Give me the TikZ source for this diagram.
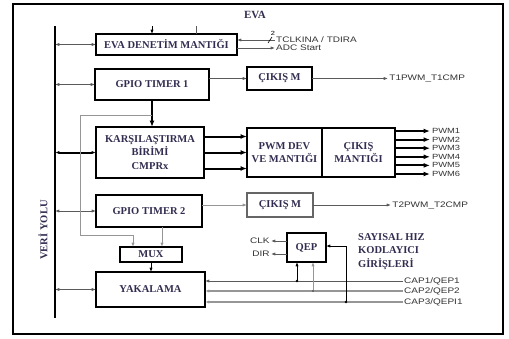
\documentclass[tikz,border=0pt]{standalone}
\usepackage{amsmath}
\usepackage{fontspec}
\setmainfont{Liberation Serif}
\newfontfamily\etiqfont[FakeStretch=1.25]{Liberation Sans}
\usepackage{tikz}
\usetikzlibrary{arrows.meta}
\usepackage{xcolor}
\definecolor{texte}{RGB}{50,45,80}
\definecolor{gris}{RGB}{150,150,150}
\definecolor{trait}{RGB}{90,90,90}

\begin{document}
\begin{tikzpicture}[x=1pt, y=-1pt,
    bloc/.style={draw, line width=1.2pt, inner sep=0pt, outer sep=0pt, align=center, text=texte, font=\bfseries\fontsize{10.5}{13.5}\selectfont},
    blocfort/.style={bloc, line width=2pt},
    etiq/.style={font=\etiqfont\fontsize{8}{9}\selectfont, inner sep=1pt, text=black!80},
    fine/.style={-{Latex[length=1.5mm, width=1.1mm]}, line width=0.8pt, draw=trait},
    epais/.style={-{Latex[length=2.2mm, width=1.7mm]}, line width=2pt},
    bus/.style={{Latex[length=1.5mm, width=1.1mm]}-{Latex[length=1.5mm, width=1.1mm]}, line width=0.8pt, draw=trait},
    grisfl/.style={-{Latex[length=1.5mm, width=1.1mm]}, line width=0.9pt, draw=gris}]

    \useasboundingbox (0,0) rectangle (509,338);

    % Cadre
    \draw[line width=2.2pt] (13,4) rectangle (503,334);
    \node[text=texte, font=\bfseries\fontsize{11}{12}\selectfont] (titre) at (255,15) {EVA};

    % Veri yolu
    \coordinate (busH) at (55,26);
    \coordinate (busB) at (55,318);
    \draw[line width=2.5pt] (busH) -- (busB);
    \node[rotate=90, text=texte, font=\bfseries\fontsize{10.5}{11}\selectfont] (veri) at (43,230) {VERİ YOLU};

    % Blocs
    \node[blocfort, minimum width=141, minimum height=21] (eva) at (166.5,44.5) {EVA DENETİM MANTIĞI};
    \node[blocfort, minimum width=114, minimum height=31] (gpioa) at (152,84.5) {GPIO TIMER 1};
    \node[blocfort, minimum width=65, minimum height=23] (cikisa) at (279.5,78.5) {ÇIKIŞ M};
    \node[bloc, minimum width=108, minimum height=51] (karsi) at (150,152.5) {KARŞILAŞTIRMA\\BİRİMİ\\CMPRx};
    \node[blocfort, minimum width=75, minimum height=49] (pwmdev) at (284.5,152.5) {PWM DEV\\VE MANTIĞI};
    \node[blocfort, minimum width=73, minimum height=49] (cikism) at (358.5,152.5) {ÇIKIŞ\\MANTIĞI};
    \node[bloc, minimum width=106, minimum height=32] (gpiob) at (149,211) {GPIO TIMER 2};
    \node[bloc, draw=gray!80!black, minimum width=66, minimum height=24] (cikisb) at (280,205) {ÇIKIŞ M};
    \node[bloc, line width=1.5pt, minimum width=62, minimum height=15] (mux) at (151,254.5) {MUX};
    \node[bloc, minimum width=109, minimum height=35] (yakala) at (150.5,289.5) {YAKALAMA};
    \node[blocfort, minimum width=39, minimum height=29] (qep) at (306.5,247.5) {QEP};

    % Flèches du bus
    \draw[bus] (eva.west -| busH) -- (eva.west);
    \draw[bus] (gpioa.west -| busH) -- (gpioa.west);
    \draw[bus, draw=black, line width=2pt] (karsi.west -| busH) -- (karsi.west);
    \draw[bus] (gpiob.west -| busH) -- (gpiob.west);
    \draw[bus] (yakala.west -| busH) -- (yakala.west);

    % Entrées et sorties EVA
    \coordinate (ina) at (152,26);
    \coordinate (inb) at (196,26);
    \draw[fine, draw=black] (ina) -- (ina |- eva.north);
    \draw[line width=0.8pt, draw=trait] (inb) -- (inb |- eva.north);
    \coordinate (tclk) at (275,40);
    \coordinate (adc) at (275,48);
    \draw[fine] (tclk) -- (tclk -| eva.east);
    \draw[fine] (adc -| eva.east) -- (adc);
    \draw[line width=0.6pt] (268,43) -- (272,37);
    \node[font=\etiqfont\fontsize{6}{6}\selectfont, inner sep=0pt] (deux) at (273,33) {2};
    \node[etiq, anchor=west] (ltclk) at (tclk) {TCLKINA / TDIRA};
    \node[etiq, anchor=west] (ladc) at (adc) {ADC Start};

    % Timer 1
    \draw[fine] (gpioa.east |- cikisa.west) -- (cikisa.west);
    \draw[fine] (cikisa.east) -- ++(76,0) node[etiq, right] {T1PWM\_T1CMP};
    \draw[epais] (gpioa.south) -- (gpioa.south |- karsi.north);

    % Comparaison vers PWM
    \foreach \dy in {16,0,-16}
        \draw[epais] ([yshift=\dy]karsi.east) -- ([yshift=\dy]karsi.east -| pwmdev.west);
    \foreach \i [evaluate=\i as \dy using 21.5-(\i-1)*8.6] in {1,...,6}
        \draw[epais] ([yshift=\dy]cikism.east) -- ++(35,0) node[etiq, right, font=\etiqfont\fontsize{7.5}{8}\selectfont] {PWM\i};

    % Timer 2
    \draw[fine, draw=gris] (gpiob.east |- cikisb.west) -- (cikisb.west);
    \draw[fine] (cikisb.east) -- ++(78,0) node[etiq, right] {T2PWM\_T2CMP};

    % Lignes vers MUX
    \coordinate (tap) at (80,115);
    \coordinate (coin) at (80,235);
    \coordinate (mxb) at (162,247);
    \draw[grisfl] (gpioa.south |- tap) -- (tap) -- (coin) -| ([xshift=-18]mux.north);
    \draw[grisfl] (mxb |- gpiob.south) -- (mxb);
    \draw[fine, draw=black] (mux.south) -- (mux.south |- yakala.north);

    % Entrées de capture
    \coordinate (cap1) at (403,281);
    \coordinate (cap2) at (403,291);
    \coordinate (cap3) at (403,302);
    \draw[fine] (cap1) -- (cap1 -| yakala.east);
    \draw[fine, draw=gris, line width=1.2pt] (cap2) -- (cap2 -| yakala.east);
    \draw[fine, draw=gris, line width=1.2pt] (cap3) -- (cap3 -| yakala.east);
    \node[etiq, anchor=west] (lcap1) at (cap1) {CAP1/QEP1};
    \node[etiq, anchor=west] (lcap2) at (cap2) {CAP2/QEP2};
    \node[etiq, anchor=west] (lcap3) at (cap3) {CAP3/QEPI1};

    % QEP
    \coordinate (j1) at (297,281);
    \coordinate (j2) at (313,291);
    \coordinate (j3) at (346,302);
    \draw[fine, draw=black] (j1) -- (j1 |- qep.south);
    \draw[fine, draw=gris] (j2) -- (j2 |- qep.south);
    \draw[fine, draw=black] (j3) |- ([yshift=1.5]qep.east);
    \fill (j1) circle (1.3);
    \fill[trait] (j2) circle (1.1);
    \fill (j3) circle (1.3);
    \draw[fine] ([yshift=6.5]qep.west) -- ++(-16,0) node[etiq, left] {CLK};
    \draw[fine] ([yshift=-6.5]qep.west) -- ++(-16,0) node[etiq, left] {DIR};
    \node[anchor=west, inner sep=0pt, text=texte, font=\bfseries\fontsize{10.5}{13.5}\selectfont] (sayisal) at (358,251)
        {\begin{tabular}{@{}l@{}}SAYISAL HIZ\\KODLAYICI\\GİRİŞLERİ\end{tabular}};

\end{tikzpicture}
\end{document}
